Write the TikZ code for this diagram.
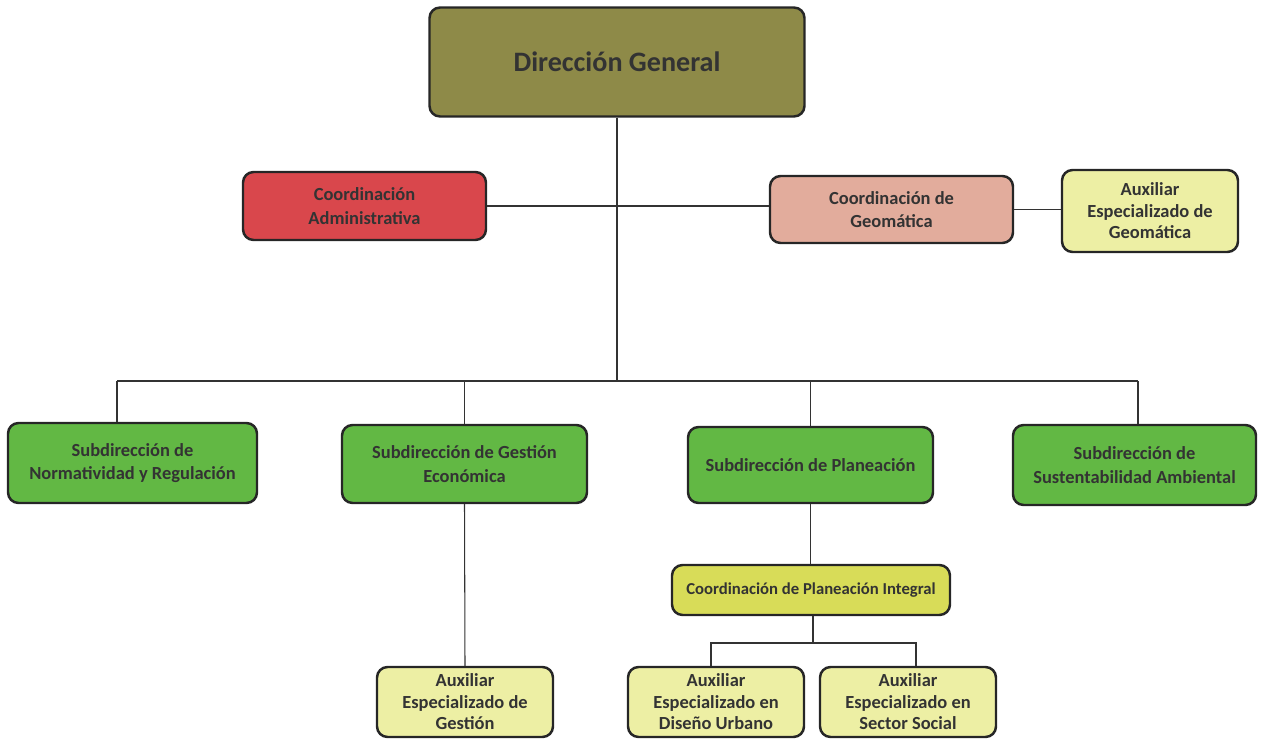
\documentclass[tikz,border=0pt]{standalone}
\usepackage{fontspec}
\setmainfont{Carlito}
\usetikzlibrary{positioning}

\definecolor{dgolive}{HTML}{8E8A48}
\definecolor{adminred}{HTML}{D9474C}
\definecolor{geopink}{HTML}{E2AC9C}
\definecolor{subgreen}{HTML}{62B844}
\definecolor{coordyel}{HTML}{D8DC58}
\definecolor{auxyel}{HTML}{EDEFA4}

\tikzset{
  box/.style={draw=black!85, line width=1.4pt, rounded corners=6pt, align=center,
    inner sep=0pt, text=black!80, font=\bfseries\fontsize{10.5}{13.5}\selectfont},
  auxbox/.style={box, fill=auxyel, minimum width=3.52cm, font=\bfseries\fontsize{10.5}{12.2}\selectfont},
  subbox/.style={box, fill=subgreen, minimum width=4.9cm, minimum height=1.56cm},
  link/.style={draw=black!80, line width=0.6pt}
}

\begin{document}
\begin{tikzpicture}
\useasboundingbox (0,0) rectangle (25.22,-14.78);

% top level
\node[box, fill=dgolive, minimum width=7.5cm, minimum height=2.18cm,
  font=\bfseries\fontsize{16}{19}\selectfont] (dg) at (12.34,-1.24) {Dirección General};

% coordinaciones
\node[box, fill=adminred, minimum width=4.86cm, minimum height=1.36cm] (ca) at (7.29,-4.12)
  {Coordinación\\Administrativa};
\node[box, fill=geopink, minimum width=4.86cm, minimum height=1.34cm] (cg) at (17.83,-4.19)
  {Coordinación de\\Geomática};
\node[auxbox, minimum height=1.64cm] (aeg) at (23.0,-4.22)
  {Auxiliar\\Especializado de\\Geomática};

% subdirecciones
\node[subbox, minimum width=4.98cm, minimum height=1.6cm] (sn) at (2.65,-9.26)
  {Subdirección de\\Normatividad y Regulación};
\node[subbox] (sge) at (9.29,-9.28) {Subdirección de Gestión\\Económica};
\node[subbox, minimum height=1.52cm] (sp) at (16.21,-9.30) {Subdirección de Planeación};
\node[subbox, minimum width=4.86cm, minimum height=1.6cm] (ssa) at (22.69,-9.30)
  {Subdirección de\\Sustentabilidad Ambiental};

\node[box, fill=coordyel, minimum width=5.56cm, minimum height=1.0cm,
  font=\bfseries\fontsize{9.5}{12}\selectfont] (cpi) at (16.22,-11.8)
  {Coordinación de Planeación Integral};

% auxiliares
\node[auxbox, minimum height=1.4cm] (aegest) at (9.3,-14.04) {Auxiliar\\Especializado de\\Gestión};
\node[auxbox, minimum height=1.4cm] (adu) at (14.32,-14.04) {Auxiliar\\Especializado en\\Diseño Urbano};
\node[auxbox, minimum height=1.4cm] (ass) at (18.16,-14.04) {Auxiliar\\Especializado en\\Sector Social};

% connectors
\coordinate (busM) at (12.34,-7.62);
\coordinate (busL) at (2.34,-7.62);
\coordinate (busR) at (22.76,-7.62);
\coordinate (pbusL) at (14.22,-12.86);
\coordinate (pbusM) at (16.26,-12.86);
\coordinate (pbusR) at (18.32,-12.86);

\draw[link] (dg.south) -- (busM);
\draw[link] (ca.east) -- (cg.west |- ca.east);
\draw[link] (cg.east) -- (aeg.west |- cg.east);
\draw[link] (busL) -- (busR);
\draw[link] (busL) -- (busL |- sn.north);
\draw[link] (sge.north |- busM) -- (sge.north);
\draw[link] (sp.north |- busM) -- (sp.north);
\draw[link] (busR) -- (busR |- ssa.north);
\draw[link] (sge.south) -- (aegest.north);
\draw[link] (sp.south) -- (sp.south |- cpi.north);
\draw[link] (cpi.south -| pbusM) -- (pbusM);
\draw[link] (pbusL |- adu.north) -- (pbusL) -- (pbusR) -- (pbusR |- ass.north);
\end{tikzpicture}
\end{document}
